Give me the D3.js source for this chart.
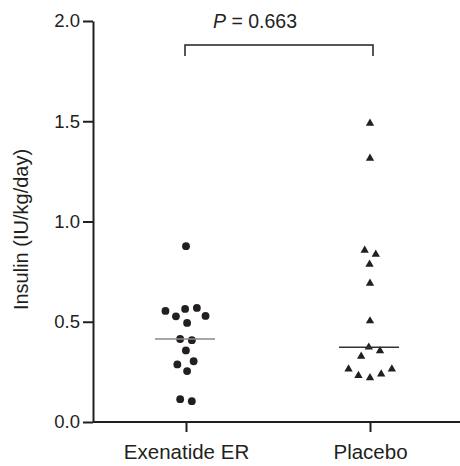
<!DOCTYPE html>
<html>
<head>
<meta charset="utf-8">
<script src="https://cdn.jsdelivr.net/npm/d3@7"></script>
<style>
  html, body { margin: 0; padding: 0; background: #fff; }
  svg { display: block; font-family: "Liberation Sans", Arial, Helvetica, sans-serif; }
</style>
</head>
<body>
<svg id="chart" width="460" height="466"></svg>
<script>
// ---- data ----
const categories = ["Exenatide ER", "Placebo"];
const exenatideValues = [0.877, 0.554, 0.564, 0.569, 0.527, 0.529, 0.494, 0.414, 0.408, 0.357, 0.287, 0.303, 0.254, 0.104, 0.114];
const placeboValues = [1.49, 1.315, 0.856, 0.836, 0.786, 0.692, 0.504, 0.373, 0.355, 0.328, 0.264, 0.239, 0.220, 0.232, 0.264];
const yTicks = [0.0, 0.5, 1.0, 1.5, 2.0];
const yLabel = "Insulin (IU/kg/day)";
const pValueText = "0.663";

// ---- layout ----
const svg = d3.select("#chart");
const axisX = 93, yBottom = 422, yTop = 21;
const axisColor = "#231f20";

const y = d3.scaleLinear().domain([0, 2]).range([yBottom, yTop]);
const x = d3.scalePoint().domain(categories).range([axisX + 1, 462]).padding(0.5);

// y axis
const gy = svg.append("g").attr("transform", `translate(${axisX},0)`)
  .call(d3.axisLeft(y).tickValues(yTicks).tickFormat(d3.format(".1f")).tickSize(10).tickSizeOuter(0).tickPadding(3));
gy.select(".domain").attr("stroke", axisColor).attr("stroke-width", 2);
gy.selectAll(".tick line").attr("stroke", axisColor).attr("stroke-width", 2);
gy.selectAll(".tick text").attr("fill", axisColor).style("font-size", "18.5px").style("font-family", "Liberation Sans, Arial, sans-serif");

// x axis
const gx = svg.append("g").attr("transform", `translate(0,${yBottom})`)
  .call(d3.axisBottom(x).tickSize(10).tickSizeOuter(0).tickPadding(12));
gx.select(".domain").attr("stroke", axisColor).attr("stroke-width", 2).attr("d", `M${axisX},0H460`);
gx.selectAll(".tick line").attr("stroke", axisColor).attr("stroke-width", 2);
gx.selectAll(".tick text").attr("fill", axisColor).style("font-size", "20.5px").style("font-family", "Liberation Sans, Arial, sans-serif");

// y label
svg.append("text")
  .attr("transform", `translate(27.5,${(yBottom + yTop) / 2 + 8}) rotate(-90)`)
  .attr("text-anchor", "middle")
  .attr("fill", axisColor)
  .style("font-size", "20px")
  .text(yLabel);

// beeswarm layout via force simulation (horizontal dodge only)
function swarm(values, cx) {
  const nodes = values.map(v => ({ v, x: cx, fy: y(v) }));
  const sim = d3.forceSimulation(nodes)
    .force("x", d3.forceX(cx).strength(0.08))
    .force("collide", d3.forceCollide(5.9).iterations(3))
    .stop();
  for (let i = 0; i < 300; i++) sim.tick();
  return nodes;
}

const exNodes = swarm(exenatideValues, x(categories[0]));
const plNodes = swarm(placeboValues, x(categories[1]));

svg.append("g").selectAll("circle").data(exNodes).join("circle")
  .attr("cx", d => d.x).attr("cy", d => d.fy).attr("r", 3.9).attr("fill", "#231f20");

const tri = d3.symbol().type(d3.symbolTriangle).size(30);
svg.append("g").selectAll("path").data(plNodes).join("path")
  .attr("d", tri).attr("transform", d => `translate(${d.x},${d.fy})`).attr("fill", "#231f20");

// medians
const medians = [
  { cat: categories[0], m: d3.median(exenatideValues), color: "#8a8a8a" },
  { cat: categories[1], m: d3.median(placeboValues), color: "#333" }
];
svg.append("g").selectAll("line").data(medians).join("line")
  .attr("x1", d => x(d.cat) - 31).attr("x2", d => x(d.cat) + 29)
  .attr("y1", d => y(d.m)).attr("y2", d => y(d.m))
  .attr("stroke", d => d.color).attr("stroke-width", 1.5);

// significance bracket
const bx1 = x(categories[0]) - 1, bx2 = x(categories[1]) + 3;
svg.append("path")
  .attr("d", `M${bx1},56V45H${bx2}V56`)
  .attr("fill", "none").attr("stroke", axisColor).attr("stroke-width", 1.5);

const pt = svg.append("text")
  .attr("x", (bx1 + bx2) / 2 - 24).attr("y", 28)
  .attr("text-anchor", "middle").attr("fill", axisColor)
  .style("font-size", "19.5px");
pt.append("tspan").style("font-style", "italic").text("P");
pt.append("tspan").text(" = " + pValueText);
</script>
</body>
</html>
